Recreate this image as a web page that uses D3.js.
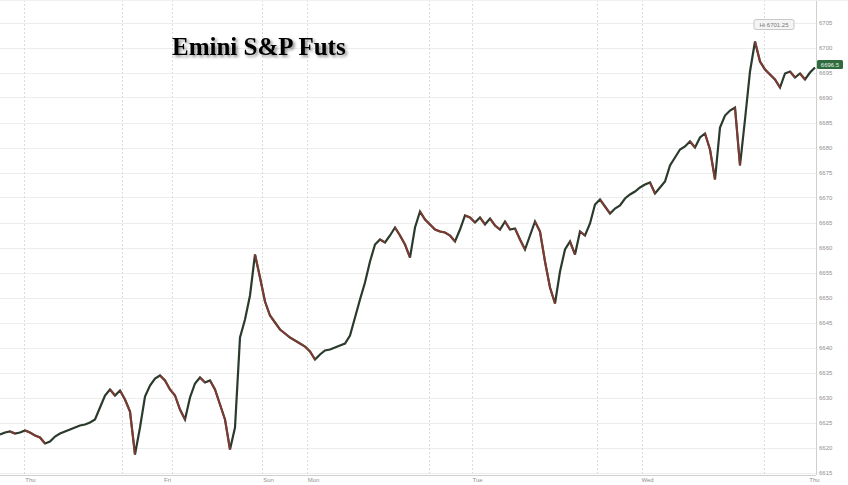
<!DOCTYPE html>
<html>
<head>
<meta charset="utf-8">
<script src="https://cdn.jsdelivr.net/npm/d3@7"></script>
<style>
  html, body { margin: 0; padding: 0; background: #fff; }
  svg { display: block; }
</style>
</head>
<body>
<svg id="chart" width="848" height="485"></svg>
<script>
// ---- data ----
const title = "Emini S&P Futs";
// closes sampled at equal time steps (bar index)
const closes = [
  6622.6, 6623.0, 6623.2, 6622.8, 6623.0, 6623.4, 6623.0, 6622.4, 6622.0, 6620.8,
  6621.2, 6622.2, 6622.8, 6623.2, 6623.6, 6624.0, 6624.4, 6624.6, 6625.0, 6625.6,
  6628.0, 6630.4, 6631.6, 6630.4, 6631.4, 6629.6, 6627.2, 6618.6, 6624.0, 6630.2,
  6632.4, 6633.8, 6634.4, 6633.4, 6631.6, 6630.4, 6627.6, 6625.6, 6630.0, 6632.8,
  6634.0, 6633.0, 6633.4, 6631.6, 6628.6, 6625.6, 6619.6, 6624.0, 6642.0, 6645.6,
  6650.4, 6658.6, 6654.0, 6649.2, 6646.4, 6645.0, 6643.6, 6642.8, 6642.0, 6641.4,
  6640.8, 6640.2, 6639.2, 6637.6, 6638.6, 6639.4, 6639.6, 6640.0, 6640.4, 6640.8,
  6642.4, 6646.0, 6649.6, 6653.0, 6657.2, 6660.6, 6661.6, 6661.0, 6662.4, 6664.0,
  6662.4, 6660.6, 6658.0, 6664.0, 6667.2, 6665.6, 6664.6, 6663.6, 6663.2, 6663.0,
  6662.4, 6661.2, 6663.6, 6666.4, 6666.0, 6665.0, 6666.0, 6664.6, 6665.8, 6664.4,
  6663.6, 6665.2, 6663.6, 6663.8, 6661.6, 6659.6, 6662.4, 6665.2, 6663.2, 6657.2,
  6652.0, 6648.8, 6655.2, 6659.6, 6661.2, 6658.6, 6663.2, 6662.4, 6664.8, 6668.6,
  6669.6, 6668.2, 6666.8, 6667.8, 6668.4, 6669.8, 6670.6, 6671.2, 6672.0, 6672.6,
  6673.0, 6670.8, 6672.0, 6673.2, 6676.4, 6678.0, 6679.6, 6680.2, 6681.2, 6680.0,
  6682.0, 6682.8, 6679.6, 6673.6, 6684.0, 6686.4, 6687.4, 6688.0, 6676.4, 6685.6,
  6695.2, 6701.2, 6697.2, 6695.6, 6694.6, 6693.6, 6692.0, 6694.8, 6695.2, 6694.0,
  6694.8, 6693.6, 6695.0, 6696.0
];
const yTicks = [6615, 6620, 6625, 6630, 6635, 6640, 6645, 6650, 6655, 6660,
                6665, 6670, 6675, 6680, 6685, 6690, 6695, 6700, 6705];
const dayLabels = ["Thu", "Fri", "Sun", "Mon", "Tue", "Wed", "Thu"];
const dayLabelPos = [6, 33.4, 53.6, 62.6, 95.4, 129.4, 162.8];   // bar index
const sessionLines = [4.8, 24.4, 34.4, 52.4, 61.4, 85.8, 94.4, 119.4, 128.4, 152.8]; // bar index
const highLabel = "Hi 6701.25";
const highValue = 6701.2;
const lastLabel = "6696.5";
const lastValue = 6696.5;

// ---- layout ----
const W = 848, H = 485;
const plotLeft = 0, plotRight = 816, plotTop = 0, plotBottom = 475;
const svg = d3.select("#chart");

const x = d3.scaleLinear().domain([0, closes.length - 1]).range([0, 815]);
const y = d3.scaleLinear().domain([6615, 6705]).range([472.5, 22.5]);

// shadow filter for title
const defs = svg.append("defs");
const f = defs.append("filter").attr("id", "shadow").attr("x", "-10%").attr("y", "-30%").attr("width", "130%").attr("height", "170%");
f.append("feDropShadow").attr("dx", 2).attr("dy", 2).attr("stdDeviation", 1.6).attr("flood-color", "#000").attr("flood-opacity", 0.45);

// horizontal grid
svg.append("g").selectAll("line").data(yTicks).join("line")
  .attr("x1", plotLeft).attr("x2", plotRight)
  .attr("y1", d => Math.round(y(d)) + 0.5).attr("y2", d => Math.round(y(d)) + 0.5)
  .attr("stroke", "#ededed").attr("stroke-width", 1);

// vertical session lines
svg.append("g").selectAll("line").data(sessionLines).join("line")
  .attr("x1", d => Math.round(x(d)) + 0.5).attr("x2", d => Math.round(x(d)) + 0.5)
  .attr("y1", plotTop).attr("y2", plotBottom)
  .attr("stroke", "#dcdcdc").attr("stroke-width", 1).attr("stroke-dasharray", "2,2");

// axes frame
svg.append("line").attr("x1", plotRight + 0.5).attr("x2", plotRight + 0.5)
  .attr("y1", 0).attr("y2", plotBottom).attr("stroke", "#cfcfcf");
svg.append("line").attr("x1", 0).attr("x2", plotRight)
  .attr("y1", plotBottom + 0.5).attr("y2", plotBottom + 0.5).attr("stroke", "#cfcfcf");
svg.append("line").attr("x1", 0).attr("x2", W)
  .attr("y1", 0.5).attr("y2", 0.5).attr("stroke", "#f0f0f0");

// y axis labels via d3 axis
const yAxis = d3.axisRight(y).tickValues(yTicks).tickSize(0).tickPadding(3).tickFormat(d3.format("d"));
const gy = svg.append("g").attr("transform", `translate(${plotRight},0)`).call(yAxis);
gy.select(".domain").remove();
gy.selectAll("text").attr("fill", "#8f8f8f").attr("font-size", 6).attr("font-family", "Liberation Sans, Arial, sans-serif");

// x axis day labels
const xAxis = d3.axisBottom(x).tickValues(dayLabelPos).tickSize(0).tickPadding(3)
  .tickFormat((d, i) => dayLabels[i]);
const gx = svg.append("g").attr("transform", `translate(0,${plotBottom})`).call(xAxis);
gx.select(".domain").remove();
gx.selectAll("text").attr("fill", "#8f8f8f").attr("font-size", 6).attr("font-family", "Liberation Sans, Arial, sans-serif");

// price series: dark base line, with down moves overlaid in red-brown
const line = d3.line().x((d, i) => x(i)).y(d => y(d)).curve(d3.curveLinear);
svg.append("path").datum(closes).attr("d", line)
  .attr("fill", "none").attr("stroke", "#2a3a2c").attr("stroke-width", 2.2)
  .attr("stroke-linejoin", "miter").attr("stroke-miterlimit", 3);
const downs = closes.slice(1).map((c, i) => ({ i: i + 1, o: closes[i], c })).filter(d => d.c < d.o);
svg.append("g").selectAll("line").data(downs).join("line")
  .attr("x1", d => x(d.i - 1)).attr("x2", d => x(d.i))
  .attr("y1", d => y(d.o)).attr("y2", d => y(d.c))
  .attr("stroke", "#8e3a33").attr("stroke-width", 2).attr("stroke-linecap", "butt")
  .attr("opacity", 0.85);

// title
svg.append("text").text(title)
  .attr("x", 172).attr("y", 55)
  .attr("font-family", "Liberation Serif, Times New Roman, serif")
  .attr("font-weight", "bold").attr("font-size", 25)
  .attr("fill", "#000").attr("filter", "url(#shadow)");

// high label box
const hiIdx = closes.indexOf(d3.max(closes));
const hiG = svg.append("g").attr("transform", `translate(${x(hiIdx) - 1},${y(highValue) - 22})`);
hiG.append("rect").attr("x", 0).attr("y", 0).attr("width", 40).attr("height", 10).attr("rx", 2)
  .attr("fill", "#f4f4f4").attr("stroke", "#bbb").attr("stroke-width", 0.8);
hiG.append("text").text(highLabel).attr("x", 20).attr("y", 7.2).attr("text-anchor", "middle")
  .attr("font-size", 6).attr("font-family", "Liberation Sans, Arial, sans-serif").attr("fill", "#777");

// last price box
const lastG = svg.append("g").attr("transform", `translate(${plotRight + 1},${y(lastValue) - 5})`);
lastG.append("rect").attr("x", 0).attr("y", 0).attr("width", 26).attr("height", 9).attr("rx", 1.5)
  .attr("fill", "#2f6b3c");
lastG.append("text").text(lastLabel).attr("x", 13).attr("y", 6.8).attr("text-anchor", "middle")
  .attr("font-size", 6).attr("font-family", "Liberation Sans, Arial, sans-serif").attr("fill", "#e8f2ea");
</script>
</body>
</html>
